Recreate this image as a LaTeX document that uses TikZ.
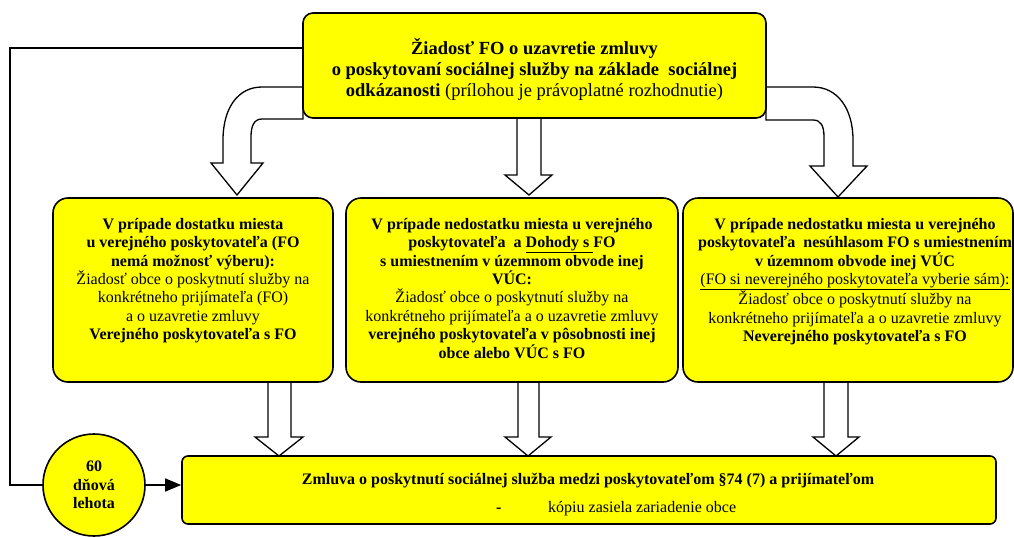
\documentclass[tikz,border=0pt]{standalone}
\usepackage{fontspec}
\setmainfont{Liberation Serif}
\usetikzlibrary{arrows.meta,calc}
\definecolor{boxyellow}{RGB}{255,255,0}
\begin{document}
\begin{tikzpicture}[x=1pt,y=-1pt,
  ybox/.style={draw=black,line width=1.6pt,fill=boxyellow,rounded corners=#1,inner sep=0pt},
  ybox/.default=10pt,
  blockarrow/.style={draw=black,line width=1.3pt,fill=white,line join=miter},
  txt/.style={inner sep=0pt,align=center,font=\fontsize{16}{18.4}\selectfont},
  bigtxt/.style={inner sep=0pt,align=center,font=\fontsize{18.5}{21.3}\selectfont},
  conn/.style={draw=black,line width=1.3pt}
]
\useasboundingbox (0,0) rectangle (1014,536);

% block arrows (behind the boxes)
\draw[blockarrow] (303,87) -- (262,87) .. controls (238,87) and (223,108) .. (223,140)
  -- (223,163) -- (211,163) -- (237,195) -- (263,163) -- (251,163) -- (251,137)
  .. controls (251,126) and (254,119) .. (262,119) -- (303,119) -- cycle;
\draw[blockarrow] (766,87) -- (813,87) .. controls (837,87) and (853,108) .. (853,140)
  -- (853,166) -- (867,166) -- (838,197) -- (810,166) -- (824,166) -- (824,137)
  .. controls (824,126) and (821,120) .. (813,120) -- (766,120) -- cycle;
\draw[blockarrow] (517,118) -- (517,175) -- (505,175) -- (529,195) -- (552,175) -- (541,175) -- (541,118);
\draw[blockarrow] (268,382) -- (268,437) -- (255,437) -- (279,456) -- (303,437) -- (291,437) -- (291,382);
\draw[blockarrow] (518,382) -- (518,437) -- (505,437) -- (528,456) -- (551,437) -- (539,437) -- (539,382);
\draw[blockarrow] (824,382) -- (824,437) -- (813,437) -- (836,456) -- (859,437) -- (848,437) -- (848,382);

% boxes
\node[ybox=10pt,minimum width=463pt,minimum height=105pt] (top) at (534.5,65.5) {};
\node[ybox=15pt,minimum width=280pt,minimum height=184pt] (b1) at (193,290) {};
\node[ybox=15pt,minimum width=332pt,minimum height=184pt] (b2) at (512,290) {};
\node[ybox=15pt,minimum width=330pt,minimum height=184pt] (b3) at (848,290) {};
\node[ybox=6pt,minimum width=814pt,minimum height=68pt] (bot) at (589,490) {};
\node[draw=black,line width=1.6pt,fill=boxyellow,circle,minimum size=102pt,inner sep=0pt,
  align=center,font=\fontsize{16}{18.4}\selectfont\bfseries] (circ) at (94,485) {60\\dňová\\lehota};

% texts
\node[bigtxt,anchor=north] (toptext) at (534.5,38) {\textbf{Žiadosť FO o uzavretie zmluvy}\\
  \textbf{o poskytovaní sociálnej služby na základe\ \ sociálnej}\\
  \textbf{odkázanosti} (prílohou je právoplatné rozhodnutie)};
\node[txt,anchor=north] (b1text) at (193,218) {\textbf{V prípade dostatku miesta}\\
  \textbf{u verejného poskytovateľa (FO}\\
  \textbf{nemá možnosť výberu):}\\
  Žiadosť obce o poskytnutí služby na\\
  konkrétneho prijímateľa (FO)\\
  a o uzavretie zmluvy\\
  \textbf{Verejného poskytovateľa s FO}};
\node[txt,anchor=north] (b2text) at (512,218) {\textbf{V prípade nedostatku miesta u verejného}\\
  \textbf{poskytovateľa\ \ a \underline{Dohody s\ }FO}\\
  \textbf{s umiestnením v územnom obvode inej}\\
  \textbf{VÚC:}\\
  Žiadosť obce o poskytnutí služby na\\
  konkrétneho prijímateľa a o uzavretie zmluvy\\
  \textbf{verejného poskytovateľa v pôsobnosti inej}\\
  \textbf{obce alebo VÚC s FO}};
\node[txt,anchor=north] (b3text) at (855,218) {\textbf{V prípade nedostatku miesta u verejného}\\
  \textbf{poskytovateľa\ \ nesúhlasom FO s umiestnením}\\
  \textbf{v územnom obvode inej VÚC}\\
  \underline{(FO si neverejného poskytovateľa vyberie sám):}\\
  Žiadosť obce o poskytnutí služby na\\
  konkrétneho prijímateľa a o uzavretie zmluvy\\
  \textbf{Neverejného poskytovateľa s FO}};
\node[txt,anchor=base] (bottext) at (588,484) {\textbf{Zmluva o poskytnutí sociálnej služba medzi poskytovateľom §74 (7) a prijímateľom}};
\node[txt,anchor=base west] (botdash) at (496,512) {\textbf{-}};
\node[txt,anchor=base west] (botline) at (548,512) {kópiu zasiela zariadenie obce};

% connectors
\coordinate (tl) at (303,48);
\coordinate (lc) at (10,485);
\draw[conn] (tl) -| (lc) -- (circ.west);
\draw[conn,-{Triangle[length=16pt,width=13pt]}] (circ.east) -- (circ.east -| bot.west);
\end{tikzpicture}
\end{document}
